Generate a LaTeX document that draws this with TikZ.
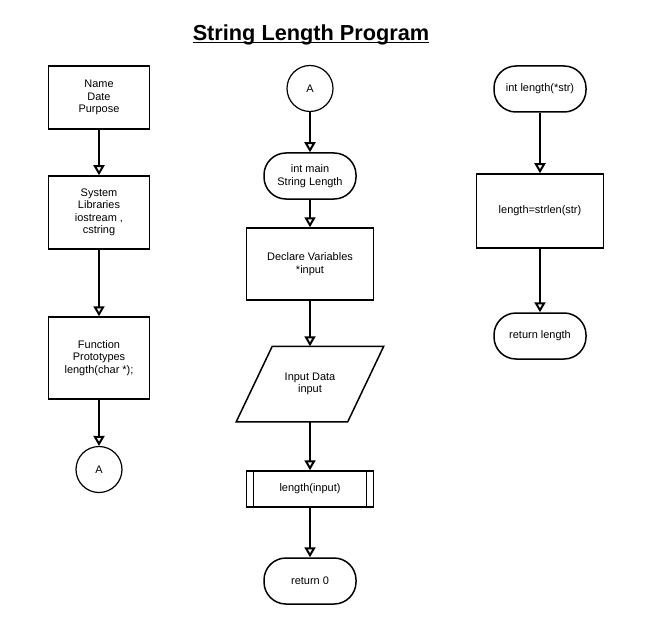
\documentclass[tikz,border=0pt]{standalone}
\usepackage{fontspec}
\setmainfont{Liberation Sans}
\usetikzlibrary{arrows.meta,calc}
\tikzset{
  box/.style={draw,line width=1.5bp,align=center,font=\fontsize{11}{12.5}\selectfont},
  term/.style={box,rounded corners=22bp,minimum width=92bp,minimum height=46bp},
  conn/.style={box,circle,minimum size=46bp,inner sep=0pt,line width=1.2bp},
  flow/.style={line width=2bp,-{Triangle[open,length=10bp,width=11bp]}}
}

\begin{document}
\begin{tikzpicture}[x=1bp,y=-1bp]
   \useasboundingbox (0,0) rectangle (656,633);
   \node[anchor=base,inner sep=0pt,font=\fontsize{21.8}{26}\selectfont\bfseries] (title) at (311,40.5) {String Length Program};
   \draw[line width=1.8bp] ([yshift=-2bp]title.base west) -- ([yshift=-2bp]title.base east);

   \node[box,minimum width=101bp,minimum height=63bp] (head) at (99,97.5) {Name\\Date\\Purpose};
   \node[box,minimum width=101bp,minimum height=73bp] (libs) at (99,212.5) {System\\Libraries\\iostream ,\\cstring};
   \node[box,minimum width=101bp,minimum height=82bp] (proto) at (99,358) {Function\\Prototypes\\length(char *);};
   \node[conn] (outA) at (99,469.5) {A};

   \node[conn] (inA) at (310,88.5) {A};
   \node[term] (main) at (310,176) {int main\\String Length};
   \node[box,minimum width=127bp,minimum height=72bp] (decl) at (310,264) {Declare Variables\\*input};
   \node[box,draw=none,minimum width=110bp,minimum height=74bp] (input) at (310,384) {Input Data\\input};
   \draw[line width=1.5bp] ($(input.north west)+(18,0)$) -- ($(input.north east)+(18,0)$)
      -- ($(input.south east)+(-18,0)$) -- ($(input.south west)+(-18,0)$) -- cycle;
   \node[box,minimum width=127bp,minimum height=36bp] (call) at (310,489) {length(input)};
   \draw[line width=1bp] ([xshift=8bp]call.north west) -- ([xshift=8bp]call.south west)
      ([xshift=-8bp]call.north east) -- ([xshift=-8bp]call.south east);
   \node[term] (ret0) at (310,581) {return 0};

   \node[term] (len) at (540,89) {int length(*str)};
   \node[box,minimum width=127bp,minimum height=74bp] (calc) at (540,211) {length=strlen(str)};
   \node[term] (retlen) at (540,336) {return length};

   \foreach \a/\b in {head/libs,libs/proto,proto/outA,inA/main,main/decl,decl/input,input/call,call/ret0,len/calc,calc/retlen}
      \draw[flow] (\a) -- (\b);
\end{tikzpicture}
\end{document}
